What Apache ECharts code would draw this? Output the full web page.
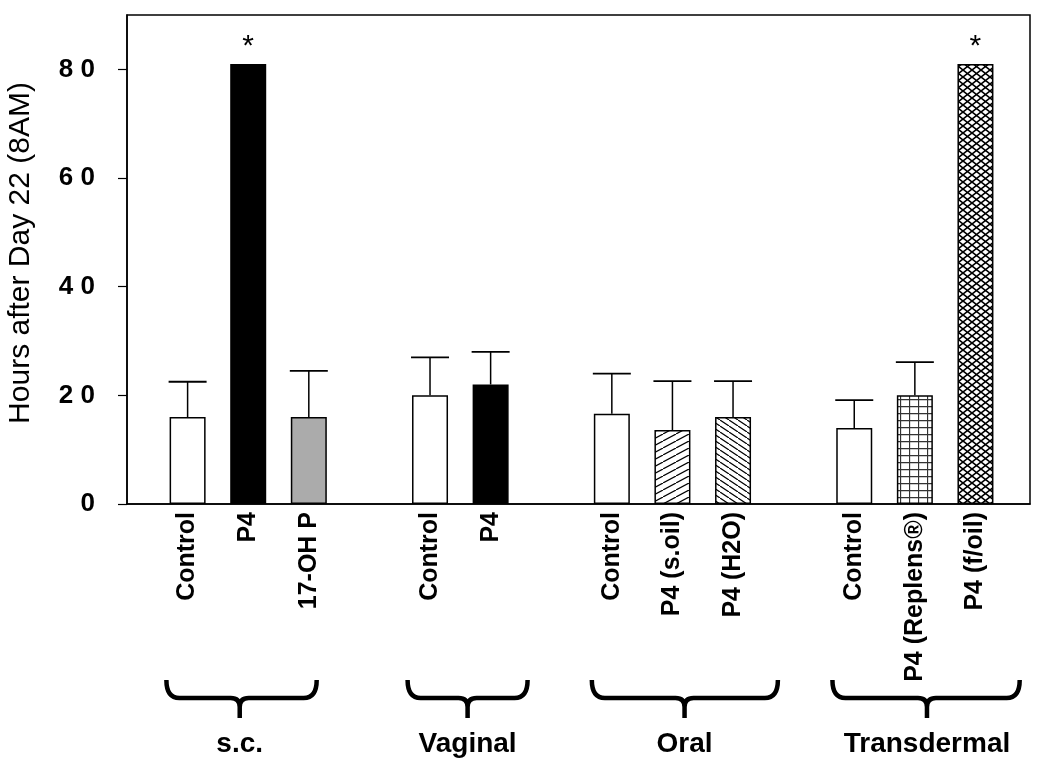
<!DOCTYPE html>
<html>
<head>
<meta charset="utf-8">
<script src="https://cdn.jsdelivr.net/npm/echarts@6/dist/echarts.min.js"></script>
<style>
html,body{margin:0;padding:0;background:#fff;}
#chart{width:1050px;height:774px;}
</style>
</head>
<body>
<div id="chart"></div>
<script>
// ---- data ----
const categories = ['Control','P4','17-OH P','','Control','P4','','Control','P4 (s.oil)','P4 (H2O)','','Control','P4 (Replens®)','P4 (f/oil)'];
const means      = [16, 81, 16, null, 20, 22, null, 16.6, 13.6, 16, null, 14, 20, 81];
const errors     = [6.5, null, 8.5, null, 7, 6, null, 7.4, 9, 6.6, null, 5.1, 6.1, null];
const fills      = ['white','black','gray',null,'white','black',null,'white','hatchUp','hatchDown',null,'white','grid','cross'];
const significant= [0, 1, 0, 0, 0, 0, 0, 0, 0, 0, 0, 0, 0, 1];
const yTicks     = [0, 20, 40, 60, 80];
const groupNames = ['s.c.', 'Vaginal', 'Oral', 'Transdermal'];
const groupSpans = [[-0.35, 2.13, 0.86], [3.63, 5.61, 4.62], [6.67, 9.74, 8.2], [10.64, 13.73, 12.2]];

const FONT = '"Liberation Sans", Arial, sans-serif';

function tile(w, h, draw) {
  const c = document.createElement('canvas');
  c.width = w; c.height = h;
  const g = c.getContext('2d');
  g.fillStyle = '#fff'; g.fillRect(0, 0, w, h);
  g.strokeStyle = '#000'; g.lineWidth = 1.2;
  draw(g, w, h);
  return c;
}
const patterns = {
  hatchUp: tile(13, 7, (g, w, h) => { g.beginPath(); g.moveTo(0, h); g.lineTo(w, 0); g.moveTo(-w, h); g.lineTo(0, 0); g.moveTo(w, 2*h); g.lineTo(2*w, h); g.stroke(); }),
  hatchDown: tile(9, 6, (g, w, h) => { g.beginPath(); g.moveTo(0, 0); g.lineTo(w, h); g.moveTo(-w, 0); g.lineTo(0, h); g.moveTo(w, -h); g.lineTo(2*w, 0); g.stroke(); }),
  grid: tile(9, 7, (g, w, h) => { g.lineWidth = 1.3; g.strokeStyle = '#333'; g.beginPath(); g.moveTo(0.5, 0); g.lineTo(0.5, h); g.moveTo(0, 0.5); g.lineTo(w, 0.5); g.stroke(); }),
  cross: tile(9, 7, (g, w, h) => { g.lineWidth = 1.6; g.beginPath(); g.moveTo(0, 0); g.lineTo(w, h); g.moveTo(w, 0); g.lineTo(0, h); g.stroke(); })
};
function fillFor(f) {
  if (f === 'white') return '#ffffff';
  if (f === 'black') return '#000000';
  if (f === 'gray') return '#ababab';
  return { image: patterns[f], repeat: 'repeat' };
}

const barData = [];
const errData = [];
means.forEach((v, i) => {
  if (v == null) return;
  barData.push({ value: [i, v], itemStyle: { color: fillFor(fills[i]) } });
  if (errors[i] != null) errData.push([i, v, errors[i]]);
});

const chart = echarts.init(document.getElementById('chart'), null, { renderer: 'canvas' });
chart.setOption({
  animation: false,
  backgroundColor: '#fff',
  grid: { left: 127, right: 20, top: 15, bottom: 270, show: true, borderColor: '#000', borderWidth: 1.5, backgroundColor: 'transparent' },
  xAxis: {
    type: 'value', min: -1, max: 13.9, interval: 1,
    axisLine: { show: true, onZero: false, lineStyle: { color: '#000', width: 1.5 } },
    axisTick: { show: false },
    splitLine: { show: false },
    axisLabel: {
      rotate: 90, margin: 8, color: '#000', fontSize: 25, fontWeight: 'bold', fontFamily: FONT,
      showMinLabel: true, showMaxLabel: true,
      formatter: v => (Number.isInteger(v) && categories[v]) ? categories[v] : ''
    }
  },
  yAxis: {
    type: 'value', min: 0, max: 90,
    axisLine: { show: true, onZero: false, lineStyle: { color: '#000', width: 1.5 } },
    axisTick: { show: true, length: 9, lineStyle: { color: '#000', width: 1.2 }, customValues: yTicks },
    splitLine: { show: false },
    axisLabel: {
      margin: 32, color: '#000', fontSize: 26, fontWeight: 'bold', fontFamily: FONT,
      customValues: yTicks,
      formatter: v => String(v).split('').join(' ')
    }
  },
  graphic: [{
    type: 'text', x: 21, y: 253, rotation: Math.PI / 2,
    style: { text: 'Hours after Day 22 (8AM)', font: '30px ' + FONT, fill: '#000', textAlign: 'center', textVerticalAlign: 'middle' }
  }],
  series: [
    {
      type: 'bar', barWidth: 36, data: barData, z: 2,
      itemStyle: { borderColor: '#000', borderWidth: 1.5 },
      label: {
        show: true, position: 'top', distance: 2, color: '#000', fontSize: 30, fontFamily: FONT,
        formatter: p => significant[p.value[0]] ? '*' : ''
      }
    },
    {
      type: 'custom', z: 3, data: errData,
      encode: { x: 0, y: [1, 2] },
      renderItem: (params, api) => {
        const x = api.value(0), m = api.value(1), e = api.value(2);
        const p0 = api.coord([x, m]), p1 = api.coord([x, m + e]);
        const cap = 19;
        return { type: 'group', children: [
          { type: 'line', shape: { x1: p0[0], y1: p0[1], x2: p1[0], y2: p1[1] }, style: { stroke: '#000', lineWidth: 1.5 } },
          { type: 'line', shape: { x1: p1[0] - cap, y1: p1[1], x2: p1[0] + cap, y2: p1[1] }, style: { stroke: '#000', lineWidth: 1.8 } }
        ]};
      }
    },
    {
      type: 'custom', z: 3, clip: false,
      data: groupSpans.map((s, k) => [s[0], s[1], s[2], 0, k]),
      encode: { x: [0, 1, 2], y: 3 },
      renderItem: (params, api) => {
        const a = api.coord([api.value(0), 0]);
        const b = api.coord([api.value(1), 0]);
        const c = api.coord([api.value(2), 0]);
        const base = a[1];
        const yT = base + 176, yH = base + 194, yP = base + 214;
        const x0 = a[0], x1 = b[0], xm = c[0], r = 13, r2 = 9;
        const d = `M ${x0} ${yT} Q ${x0} ${yH} ${x0 + r} ${yH} L ${xm - r2} ${yH} Q ${xm} ${yH} ${xm} ${yH + r2} L ${xm} ${yP} ` +
                  `M ${xm} ${yH + r2} Q ${xm} ${yH} ${xm + r2} ${yH} L ${x1 - r} ${yH} Q ${x1} ${yH} ${x1} ${yT}`;
        return { type: 'group', children: [
          { type: 'path', shape: { pathData: d }, style: { stroke: '#000', lineWidth: 4.5, fill: null, lineJoin: 'round', lineCap: 'butt' } },
          { type: 'text', style: { text: groupNames[api.value(4)], x: xm, y: base + 240, textAlign: 'center', textVerticalAlign: 'middle', font: 'bold 28px ' + FONT, fill: '#000' } }
        ]};
      }
    }
  ]
});
</script>
</body>
</html>
